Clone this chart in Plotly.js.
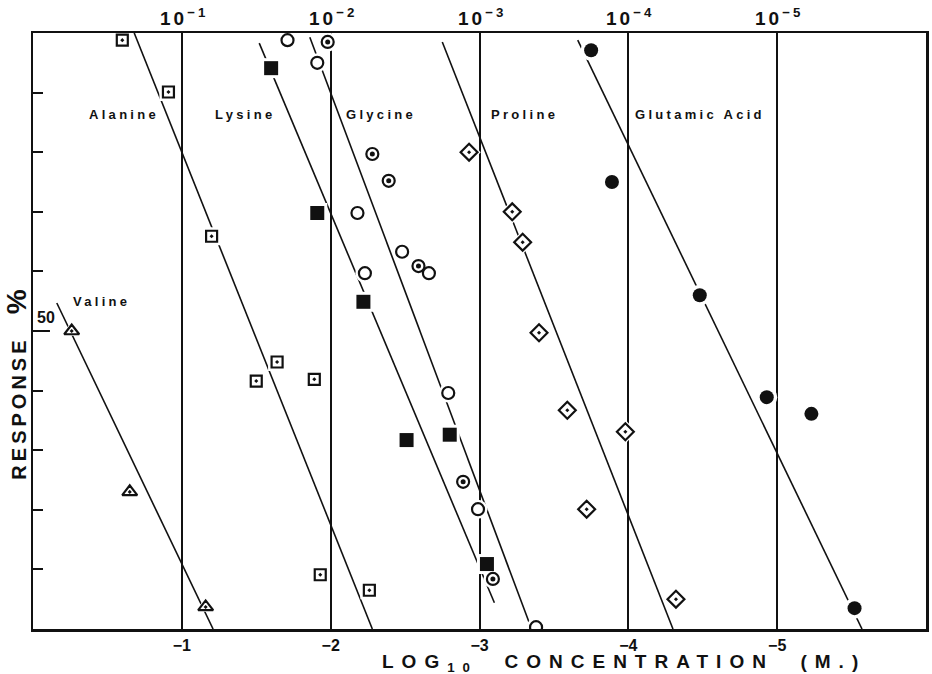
<!DOCTYPE html>
<html>
<head>
<meta charset="utf-8">
<script src="https://cdn.plot.ly/plotly-3.0.1.min.js"></script>
<style>html,body{margin:0;padding:0;background:#fff}</style>
</head>
<body>
<div id="chart" style="width:932px;height:674px"></div>
<script>
// Per cent response versus log10 molar concentration for six amino acids.

// Valine (open triangles)
const valineX = [-0.26, -0.65, -1.16];
const valineY = [50.0, 23.0, 3.7];
const valineFitX = [-0.16, -1.21];
const valineFitY = [54.7, 0];

// Alanine (squares with centre dot)
const alanineX = [-0.60, -0.91, -1.20, -1.64, -1.50, -1.89, -1.93, -2.26];
const alanineY = [98.8, 90.1, 65.9, 44.8, 41.6, 41.9, 9.1, 6.5];
const alanineFitX = [-0.68, -2.28];
const alanineFitY = [100, 0];

// Lysine (filled squares)
const lysineX = [-1.60, -1.91, -2.22, -2.51, -2.80, -3.05];
const lysineY = [94.1, 69.8, 54.9, 31.7, 32.6, 10.9];
const lysineFitX = [-1.52, -3.10];
const lysineFitY = [98.3, 4.4];

// Glycine, two runs (open circles, bull's-eye circles)
const glycineAX = [-1.71, -1.91, -2.18, -2.23, -2.48, -2.66, -2.79, -2.99, -3.38];
const glycineAY = [98.8, 95.0, 69.8, 59.7, 63.3, 59.7, 39.6, 20.1, 0.3];
const glycineBX = [-1.98, -2.28, -2.39, -2.59, -2.89, -3.09];
const glycineBY = [98.5, 79.7, 75.2, 60.9, 24.7, 8.4];
const glycineFitX = [-1.86, -3.35];
const glycineFitY = [99.3, 0];

// Proline (diamonds with centre dot)
const prolineX = [-2.93, -3.22, -3.29, -3.40, -3.59, -3.72, -3.98, -4.32];
const prolineY = [80.0, 70.0, 64.9, 49.7, 36.7, 20.1, 33.1, 5.0];
const prolineFitX = [-2.75, -4.30];
const prolineFitY = [98.5, 0];

// Glutamic acid (filled circles)
const glutamicX = [-3.75, -3.89, -4.48, -4.93, -5.23, -5.52];
const glutamicY = [97.1, 75.0, 56.0, 38.9, 36.1, 3.5];
const glutamicFitX = [-3.66, -5.57];
const glutamicFitY = [98.8, 0];

// Axis ticks
const logTicks = [-1, -2, -3, -4, -5];
const logTickText = ['\u22121', '\u22122', '\u22123', '\u22124', '\u22125'];
const molarTickText = ['10<sup>\u22121</sup>', '10<sup>\u22122</sup>', '10<sup>\u22123</sup>',
                       '10<sup>\u22124</sup>', '10<sup>\u22125</sup>'];
const responseTicks = [0, 10, 20, 30, 40, 50, 60, 70, 80, 90, 100];

// Series labels
const labelNames = ['Alanine', 'Lysine', 'Glycine', 'Proline', 'Glutamic Acid', 'Valine'];
const labelX = [-0.61, -1.43, -2.34, -3.30, -4.48, -0.46];
const labelY = [86.4, 86.4, 86.4, 86.4, 86.4, 55.0];

const INK = '#111';
const FONT = 'Liberation Sans, Arial, sans-serif';

function fit(xs, ys) {
  return {x: xs, y: ys, mode: 'lines', type: 'scatter', hoverinfo: 'skip',
          line: {color: INK, width: 1.6}};
}
// white backing disc so lines and grid break around each symbol
function halo(xs, ys, symbol, size) {
  return {x: xs, y: ys, mode: 'markers', type: 'scatter', hoverinfo: 'skip',
          marker: {symbol: symbol, size: size, color: '#fff', line: {width: 0}}};
}
function pts(xs, ys, symbol, size, lw) {
  return {x: xs, y: ys, mode: 'markers', type: 'scatter',
          marker: {symbol: symbol, size: size, color: INK, line: {color: INK, width: lw}}};
}

const traces = [
  fit(valineFitX, valineFitY),
  fit(alanineFitX, alanineFitY),
  fit(lysineFitX, lysineFitY),
  fit(glycineFitX, glycineFitY),
  fit(prolineFitX, prolineFitY),
  fit(glutamicFitX, glutamicFitY),

  halo(valineX, valineY, 'triangle-up', 19),
  halo(alanineX, alanineY, 'square', 18),
  halo(lysineX, lysineY, 'square', 20),
  halo(glycineAX, glycineAY, 'circle', 19),
  halo(glycineBX, glycineBY, 'circle', 19),
  halo(prolineX, prolineY, 'diamond', 18),
  halo(glutamicX, glutamicY, 'circle', 21),

  pts(valineX, valineY, 'triangle-up-open-dot', 13, 2.2),
  pts(alanineX, alanineY, 'square-open-dot', 11, 2.2),
  pts(lysineX, lysineY, 'square', 14, 0),
  pts(glycineAX, glycineAY, 'circle-open', 12, 2.2),
  pts(glycineBX, glycineBY, 'circle-open', 12, 2.2),
  pts(glycineBX, glycineBY, 'circle', 5, 0),
  pts(prolineX, prolineY, 'diamond-open-dot', 13, 2.2),
  pts(glutamicX, glutamicY, 'circle', 14, 0)
];

const annotations = labelNames.map((t, i) => ({
  x: labelX[i], y: labelY[i], xref: 'x', yref: 'y', showarrow: false,
  text: '<span style="letter-spacing:3.3px">' + t + '</span>',
  font: {family: FONT, size: 13, color: INK, weight: 'bold'}
}));

// molar concentration scale along the top edge
logTicks.forEach((v, i) => annotations.push({
  x: v, y: 1, xref: 'x', yref: 'paper', xanchor: 'center', yanchor: 'bottom',
  xshift: 2, yshift: 2, showarrow: false,
  text: '<span style="letter-spacing:3px">' + molarTickText[i] + '</span>',
  font: {family: FONT, size: 19, color: INK, weight: 'bold'}
}));

annotations.push({
  xref: 'paper', yref: 'y', x: 0, y: 50, xanchor: 'left', yanchor: 'bottom',
  xshift: 2, yshift: 3, showarrow: false, text: '50',
  font: {family: FONT, size: 16, color: INK, weight: 'bold'}
});
annotations.push({
  xref: 'paper', yref: 'paper', x: 0.662, y: 0, xanchor: 'center', yanchor: 'middle',
  yshift: -34, showarrow: false,
  text: '<span style="letter-spacing:8px">LOG<sub>10</sub>\u00a0\u00a0CONCENTRATION\u00a0\u00a0(M.)</span>',
  font: {family: FONT, size: 19, color: INK, weight: 'bold'}
});
annotations.push({
  xref: 'paper', yref: 'y', x: 0, y: 41, xanchor: 'center', yanchor: 'middle',
  xshift: -16, textangle: -90, showarrow: false,
  text: '<span style="letter-spacing:4px">RESPONSE</span>\u00a0\u00a0\u00a0\u00a0<span style="font-size:28px">%</span>',
  font: {family: FONT, size: 20, color: INK, weight: 'bold'}
});

const layout = {
  width: 932, height: 674,
  margin: {l: 33, r: 6, t: 33, b: 45},
  paper_bgcolor: '#fff', plot_bgcolor: '#fff',
  showlegend: false,
  xaxis: {
    range: [0, -6], tickvals: logTicks, ticktext: logTickText,
    showgrid: true, gridcolor: INK, gridwidth: 2, zeroline: false,
    showline: true, mirror: true, linecolor: INK, linewidth: 2.5,
    ticks: '', ticklabelstandoff: 0,
    tickfont: {family: FONT, size: 16, color: INK, weight: 'bold'}
  },
  yaxis: {
    range: [0, 100], tickvals: responseTicks, showticklabels: false,
    ticks: 'inside', ticklen: 10, tickwidth: 2, tickcolor: INK,
    showgrid: false, zeroline: false,
    showline: true, mirror: true, linecolor: INK, linewidth: 2.5
  },
  shapes: [
    {type: 'line', xref: 'paper', yref: 'y', x0: 0, x1: 0.019, y0: 50, y1: 50,
     line: {color: INK, width: 2}}
  ],
  annotations: annotations
};

Plotly.newPlot('chart', traces, layout, {staticPlot: true, displayModeBar: false});
</script>
</body>
</html>
